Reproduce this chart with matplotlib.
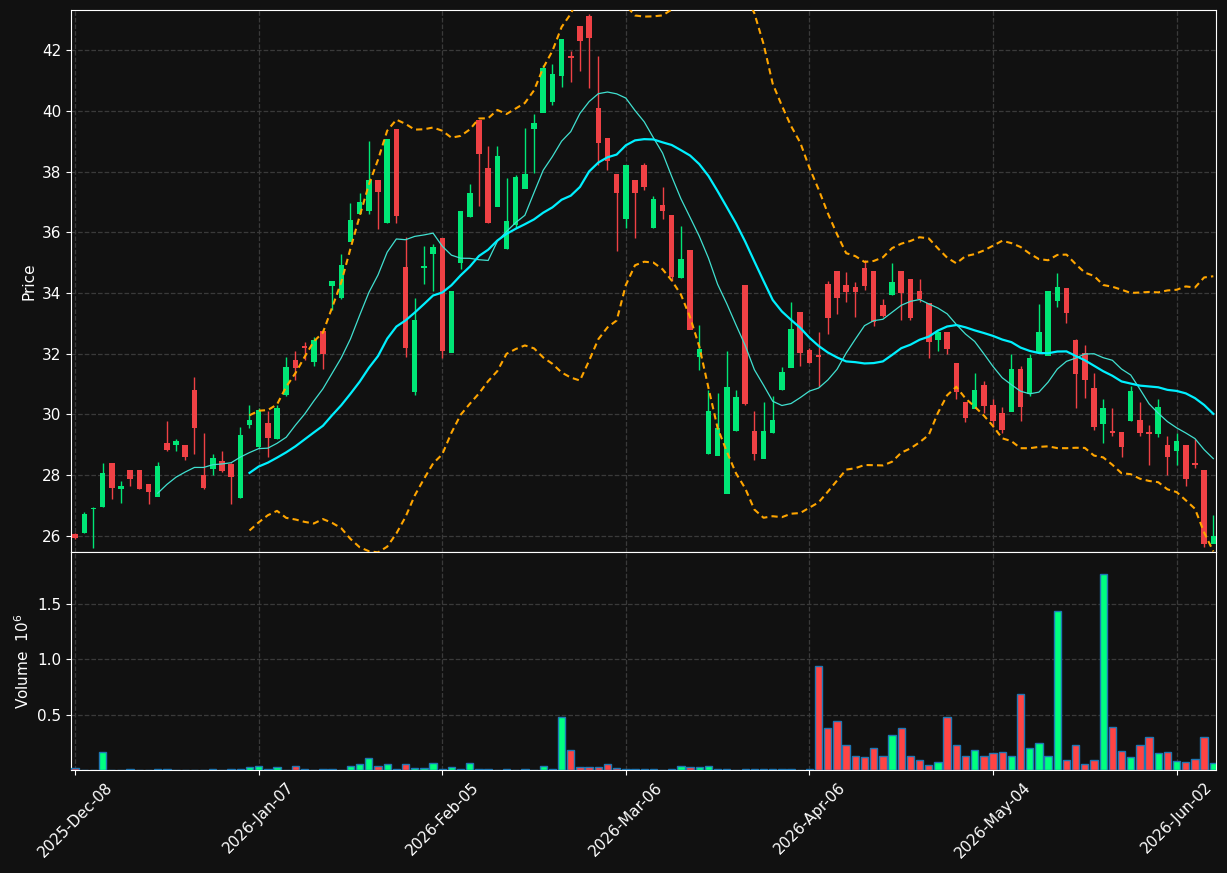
import numpy as np
import pandas as pd
import matplotlib
matplotlib.use("Agg")
import matplotlib.pyplot as plt

opens = [26.05,26.1,26.9,26.95,28.4,27.55,28.15,28.15,27.7,27.3,
         29.05,29.0,29.0,30.8,28.0,28.2,28.45,28.35,27.25,29.65,
         28.95,29.7,29.2,30.65,31.8,32.25,31.75,32.75,34.25,33.85,
         35.7,36.6,36.7,37.7,36.3,39.4,34.85,30.75,34.85,35.3,
         35.8,32.05,35.0,36.5,39.7,38.1,36.85,35.45,36.25,37.45,
         39.4,39.95,40.3,41.15,41.8,42.8,43.1,40.1,39.1,37.9,
         36.45,37.7,38.2,36.15,36.9,36.55,34.5,35.4,31.9,28.7,
         28.65,27.4,29.45,34.25,29.45,28.55,29.4,30.8,31.55,33.35,
         32.1,31.95,34.3,34.7,34.25,34.2,34.8,34.7,33.6,33.95,
         34.7,34.45,34.05,33.65,32.45,32.7,31.7,30.4,30.2,30.95,
         30.3,30.05,30.1,31.5,30.7,32.05,31.95,33.75,34.15,32.45,
         32.0,30.85,29.7,29.45,29.4,29.8,29.8,29.4,29.35,29.0,
         28.8,29.0,28.4,28.15,25.75]
highs = [26.1,26.8,26.95,28.4,28.4,27.8,28.15,28.15,27.7,28.45,
         29.8,29.2,29.0,31.25,29.4,28.7,28.8,28.4,29.6,30.3,
         30.2,30.1,30.3,31.9,32.1,32.4,32.55,32.8,34.4,35.3,
         36.95,37.3,39.0,37.72,39.05,39.4,35.85,33.85,35.55,35.6,
         35.8,34.05,36.7,37.6,39.7,38.85,38.85,37.8,37.9,39.45,
         39.9,41.5,41.55,42.35,41.97,42.8,43.2,41.8,39.1,37.9,
         38.2,37.7,38.27,37.2,37.5,36.55,36.2,35.4,32.95,30.8,
         30.7,32.1,30.8,34.25,30.1,30.4,30.6,31.55,33.7,33.35,
         32.2,32.7,34.4,34.7,34.7,34.35,35.1,34.7,33.8,35.0,
         34.7,34.45,34.45,33.65,32.75,32.7,31.7,30.4,31.35,31.1,
         30.5,30.25,32.0,31.6,32.0,33.65,34.05,34.65,34.15,32.5,
         32.3,31.35,30.5,30.2,29.4,30.95,30.4,29.65,30.5,29.3,
         29.4,29.0,29.2,28.15,26.7]
lows = [25.9,26.1,25.6,26.95,27.2,27.1,27.65,27.55,27.05,27.3,
        28.8,28.8,28.5,28.7,27.55,28.0,28.1,27.05,27.25,29.55,
        28.9,28.6,29.2,30.6,31.15,31.8,31.6,31.5,33.45,33.8,
        35.7,36.6,36.6,36.1,36.3,36.3,31.9,30.65,34.3,34.05,
        31.85,32.05,34.8,36.5,36.85,36.3,36.85,35.45,36.15,37.45,
        37.95,39.95,40.2,40.8,40.95,41.3,40.75,38.2,38.05,35.4,
        36.15,35.8,37.4,36.15,36.45,34.4,34.5,32.8,31.45,28.7,
        28.65,27.4,29.45,30.3,28.5,28.55,29.4,30.8,31.55,31.6,
        31.7,30.9,32.65,33.3,33.7,33.2,34.1,32.9,33.2,33.95,
        33.1,33.1,33.7,31.85,32.1,32.0,30.5,29.75,30.2,30.05,
        29.6,29.4,30.1,29.8,30.6,32.05,31.95,33.55,33.0,30.2,
        30.55,29.5,29.05,29.3,28.6,29.8,29.3,28.35,29.25,28.0,
        28.35,27.65,28.25,25.65,25.75]
closes = [25.95,26.7,26.9,28.05,27.6,27.65,27.9,27.55,27.45,28.3,
          28.85,29.1,28.6,29.55,27.6,28.55,28.15,27.95,29.3,29.8,
          30.15,29.25,30.2,31.55,31.55,32.2,32.45,32.0,34.4,34.9,
          36.4,37.0,37.7,37.35,39.05,36.55,32.2,33.1,34.87,35.5,
          32.1,34.05,36.7,37.3,38.6,36.3,38.5,36.35,37.8,37.9,
          39.6,41.4,41.2,42.35,41.75,42.3,42.4,38.95,38.35,37.3,
          38.2,37.3,37.5,37.1,36.7,34.55,35.1,32.8,32.15,30.1,
          29.55,30.9,30.55,30.35,28.7,29.45,29.8,31.4,32.8,32.05,
          31.7,31.9,33.2,33.85,34.05,34.05,34.25,33.05,33.25,34.35,
          34.0,33.2,33.8,32.4,32.7,32.15,30.75,29.9,30.8,30.3,
          29.8,29.5,31.5,30.25,31.85,32.7,34.05,34.2,33.35,31.35,
          31.15,29.6,30.2,29.4,28.95,30.75,29.4,29.35,30.25,28.6,
          29.1,27.9,28.35,25.75,26.0]
volumes = [0.015,0.003,0.003,0.16,0.003,0.003,0.01,0.003,0.003,0.01,
           0.01,0.003,0.003,0.003,0.003,0.01,0.003,0.01,0.01,0.025,
           0.04,0.01,0.025,0.003,0.04,0.01,0.003,0.01,0.01,0.003,
           0.035,0.055,0.105,0.035,0.055,0.01,0.055,0.02,0.02,0.06,
           0.01,0.025,0.01,0.06,0.01,0.01,0.003,0.01,0.003,0.01,
           0.003,0.035,0.01,0.475,0.18,0.03,0.03,0.03,0.05,0.02,
           0.01,0.01,0.01,0.01,0.003,0.01,0.033,0.025,0.025,0.033,
           0.01,0.01,0.003,0.01,0.01,0.01,0.005,0.01,0.01,0.003,
           0.01,0.943,0.375,0.447,0.23,0.123,0.114,0.195,0.13,0.312,
           0.375,0.13,0.087,0.042,0.069,0.475,0.23,0.13,0.177,0.13,
           0.15,0.159,0.123,0.69,0.195,0.24,0.123,1.438,0.087,0.23,
           0.051,0.087,1.77,0.385,0.168,0.114,0.222,0.295,0.15,0.159,
           0.078,0.069,0.096,0.295,0.06]
tick_labels = ["2025-Dec-08","2026-Jan-07","2026-Feb-05","2026-Mar-06",
               "2026-Apr-06","2026-May-04","2026-Jun-02"]
tick_idx = [0,20,40,60,80,100,120]

o = np.array(opens); h = np.array(highs); l = np.array(lows); c = np.array(closes)
v = np.array(volumes)
x = np.arange(len(c))
cs = pd.Series(c)
ma10 = cs.rolling(10).mean()
ma20 = cs.rolling(20).mean()
sd20 = cs.rolling(20).std(ddof=0)
upper = ma20 + 2*sd20
lower = ma20 - 2*sd20

BG = '#111111'
UP = '#00e676'; DN = '#ef4145'
VUP = '#00ff80'; VDN = '#ff4444'

fig = plt.figure(figsize=(12.27, 8.73), dpi=100, facecolor=BG)
axp = fig.add_axes([0.0579, 0.3677, 0.9332, 0.6208], facecolor=BG)
axv = fig.add_axes([0.0579, 0.1180, 0.9332, 0.2497], facecolor=BG, sharex=axp)

up = c >= o
cols = np.where(up, UP, DN)
axp.vlines(x, l, h, colors=cols, linewidth=1.0, zorder=2)
axp.bar(x, np.abs(c - o) + 0.02, bottom=np.minimum(o, c) - 0.01, width=0.6,
        color=cols, zorder=3)
axp.plot(x, ma10, color='#40e0d0', lw=0.9, zorder=4)
axp.plot(x, ma20, color='#00f0ff', lw=1.6, zorder=4)
axp.plot(x, upper, color='orange', lw=1.5, ls=(0, (3, 2)), zorder=4)
axp.plot(x, lower, color='orange', lw=1.5, ls=(0, (3, 2)), zorder=4)
axp.set_ylim(25.47, 43.32)
axp.set_xlim(-0.44, 124.3)
axp.set_yticks([26, 28, 30, 32, 34, 36, 38, 40, 42])
axp.set_ylabel('Price', color='white', fontsize=11)

axv.bar(x, v, width=0.8, color=np.where(up, VUP, VDN), edgecolor='#1f77b4',
        linewidth=1.0, zorder=3)
axv.set_ylim(0, 1.97)
axv.set_yticks([0.5, 1.0, 1.5])
axv.set_ylabel(r'Volume  $10^6$', color='white', fontsize=11)
axv.set_xticks(tick_idx)
axv.set_xticklabels(tick_labels, rotation=45)
plt.setp(axp.get_xticklabels(), visible=False)

for ax in (axp, axv):
    ax.grid(True, color='#3a3a3a', ls='--', lw=0.9)
    ax.set_axisbelow(True)
    for s in ax.spines.values():
        s.set_color('white')
    ax.tick_params(colors='white', labelsize=11)

fig.savefig('out.png', dpi=100, facecolor=BG)
